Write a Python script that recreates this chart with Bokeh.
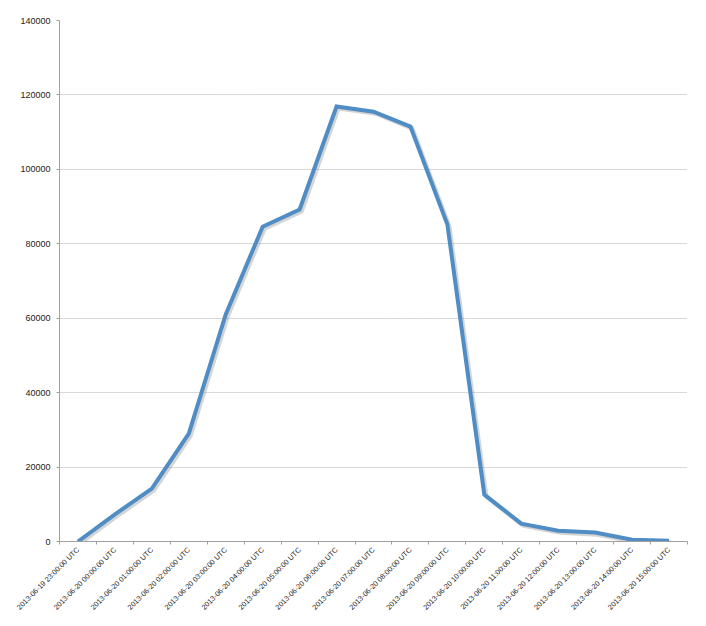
import math
from bokeh.plotting import figure
from bokeh.models import FixedTicker, Range1d, BasicTickFormatter
from bokeh.embed import file_html
from bokeh.resources import INLINE

categories = [
    "2013-06-19 23:00:00 UTC", "2013-06-20 00:00:00 UTC", "2013-06-20 01:00:00 UTC",
    "2013-06-20 02:00:00 UTC", "2013-06-20 03:00:00 UTC", "2013-06-20 04:00:00 UTC",
    "2013-06-20 05:00:00 UTC", "2013-06-20 06:00:00 UTC", "2013-06-20 07:00:00 UTC",
    "2013-06-20 08:00:00 UTC", "2013-06-20 09:00:00 UTC", "2013-06-20 10:00:00 UTC",
    "2013-06-20 11:00:00 UTC", "2013-06-20 12:00:00 UTC", "2013-06-20 13:00:00 UTC",
    "2013-06-20 14:00:00 UTC", "2013-06-20 15:00:00 UTC",
]
values = [0, 7300, 14200, 29000, 61000, 84600, 89200, 116900, 115500, 111500,
          85200, 12600, 4800, 2900, 2400, 500, 200]
y_ticks = [0, 20000, 40000, 60000, 80000, 100000, 120000, 140000]

n = len(categories)
xs = [i + 0.5 for i in range(n)]

p = figure(width=698, height=618, output_backend="svg", toolbar_location=None,
           x_range=Range1d(0, n), y_range=Range1d(0, 140000),
           min_border_left=59, min_border_top=20, min_border_right=11,
           min_border_bottom=77)
p.outline_line_color = None
p.background_fill_color = "white"
p.border_fill_color = "white"

# shadow
p.line([x + 0.05 for x in xs], [v - 500 for v in values], line_width=4.5,
       line_color="#888888", line_alpha=0.35, line_join="round")
p.line(xs, values, line_width=4, line_color="#4f8dc4", line_join="miter")

p.xgrid.grid_line_color = None
p.ygrid.grid_line_color = "#b0b0b0"
p.ygrid.grid_line_dash = "1 1"
p.ygrid.grid_line_width = 1

p.yaxis.ticker = FixedTicker(ticks=y_ticks)
p.yaxis.formatter = BasicTickFormatter(use_scientific=False)
p.yaxis.axis_line_color = "#a0a0a0"
p.yaxis.major_tick_line_color = "#a0a0a0"
p.yaxis.major_tick_out = 3
p.yaxis.major_tick_in = 0
p.yaxis.minor_tick_line_color = None
p.yaxis.major_label_text_font = "Liberation Sans"
p.yaxis.major_label_text_font_size = "9px"
p.yaxis.major_label_text_color = "#222222"
p.yaxis.major_label_standoff = 6

p.xaxis.ticker = FixedTicker(ticks=xs, minor_ticks=list(range(n + 1)))
p.xaxis.major_label_overrides = {x: c for x, c in zip(xs, categories)}
p.xaxis.major_tick_line_color = None
p.xaxis.minor_tick_line_color = "#a0a0a0"
p.xaxis.minor_tick_out = 3
p.xaxis.minor_tick_in = 0
p.xaxis.axis_line_color = "#a0a0a0"
p.xaxis.major_label_orientation = math.pi / 4
p.xaxis.major_label_text_font = "Liberation Sans"
p.xaxis.major_label_text_font_size = "7.3px"
p.xaxis.major_label_text_color = "#222222"
p.xaxis.major_label_standoff = 1

open("out.html", "w").write(file_html(p, INLINE))
